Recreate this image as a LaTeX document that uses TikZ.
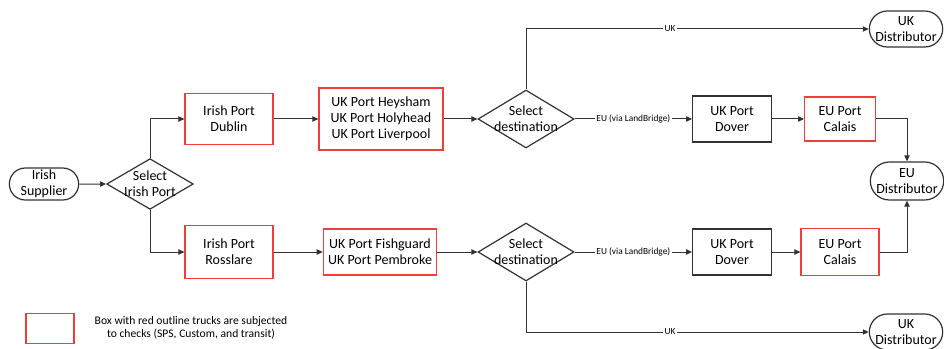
\documentclass[tikz,border=0pt]{standalone}
\usepackage{fontspec}
\setmainfont{Carlito}
\usepackage{tikz}
\usetikzlibrary{shapes,arrows.meta}
\definecolor{chkred}{RGB}{240,60,60}
\definecolor{lineclr}{RGB}{50,50,50}

\begin{document}
\begin{tikzpicture}[x=0.75pt,y=-0.75pt,
  font=\fontsize{10.5}{12}\selectfont,
  every node/.style={align=center},
  term/.style={draw=lineclr,line width=0.9pt,rounded rectangle,minimum width=57pt,minimum height=27pt,inner sep=1pt},
  decide/.style={draw=lineclr,line width=0.9pt,diamond,inner sep=0pt},
  port/.style={draw=lineclr,line width=0.9pt,rectangle,inner sep=2pt},
  checked/.style={draw=chkred,line width=0.9pt,rectangle,inner sep=2pt},
  flow/.style={draw=lineclr,line width=0.75pt,-{Triangle[length=4.5pt,width=4pt]}},
  edgetxt/.style={fill=white,inner sep=1pt,font=\fontsize{7}{8}\selectfont}]
\useasboundingbox (0,0) rectangle (944,349);
\node[term,minimum width=54pt,minimum height=24pt] (sup) at (44,184) {Irish\\Supplier};
\node[decide,minimum width=65pt,minimum height=38pt] (selirl) at (150,184) {};
\node (selirltxt) at (150,184) {Select\\Irish Port};
\node[checked,minimum width=66pt,minimum height=38pt] (dublin) at (229,119) {Irish Port\\Dublin};
\node[checked,minimum width=66pt,minimum height=40pt] (rosslare) at (229,252) {Irish Port\\Rosslare};
\node[checked,minimum width=93pt,minimum height=46.5pt] (heysham) at (381,119) {UK Port Heysham\\UK Port Holyhead\\UK Port Liverpool};
\node[checked,minimum width=85pt,minimum height=34.5pt] (fishguard) at (380,252) {UK Port Fishguard\\UK Port Pembroke};
\node[decide,minimum width=72pt,minimum height=43.5pt] (seldesta) at (526,119) {};
\node (seldestatxt) at (526,119) {Select\\destination};
\node[decide,minimum width=72pt,minimum height=43.5pt] (seldestb) at (526,252) {};
\node (seldestbtxt) at (526,252) {Select\\destination};
\node[port,minimum width=59pt,minimum height=34.5pt] (dovera) at (732,119) {UK Port\\Dover};
\node[port,minimum width=59pt,minimum height=34.5pt] (doverb) at (732,252) {UK Port\\Dover};
\node[checked,minimum width=53pt,minimum height=33pt] (calaisa) at (840,119) {EU Port\\Calais};
\node[checked,minimum width=58.5pt,minimum height=35pt] (calaisb) at (840,252) {EU Port\\Calais};
\node[term,minimum height=28.5pt] (eudist) at (907,181) {EU\\Distributor};
\node[term] (ukdista) at (906,29) {UK\\Distributor};
\node[term] (ukdistb) at (906,332) {UK\\Distributor};
\node[checked,minimum width=36pt,minimum height=22pt] (legbox) at (50,328.5) {};
\node[font=\fontsize{8.7}{10}\selectfont] (legtxt) at (191,328) {Box with red outline trucks are subjected\\to checks (SPS, Custom, and transit)};
\draw[flow] (sup) -- (selirl);
\draw[flow] (selirl) |- (dublin);
\draw[flow] (selirl) |- (rosslare);
\draw[flow] (dublin) -- (heysham);
\draw[flow] (rosslare) -- (fishguard);
\draw[flow] (heysham) -- (seldesta);
\draw[flow] (fishguard) -- (seldestb);
\draw[flow] (seldesta) -- node[edgetxt] (lba) {EU (via LandBridge)} (dovera);
\draw[flow] (seldestb) -- node[edgetxt] (lbb) {EU (via LandBridge)} (doverb);
\draw[flow] (dovera) -- (calaisa);
\draw[flow] (doverb) -- (calaisb);
\draw[flow] (calaisa) -| (eudist);
\draw[flow] (calaisb) -| (eudist);
\draw[flow] (seldesta) |- node[edgetxt,pos=0.71] (uka) {UK} (ukdista);
\draw[flow] (seldestb) |- node[edgetxt,pos=0.71] (ukb) {UK} (ukdistb);
\end{tikzpicture}
\end{document}
